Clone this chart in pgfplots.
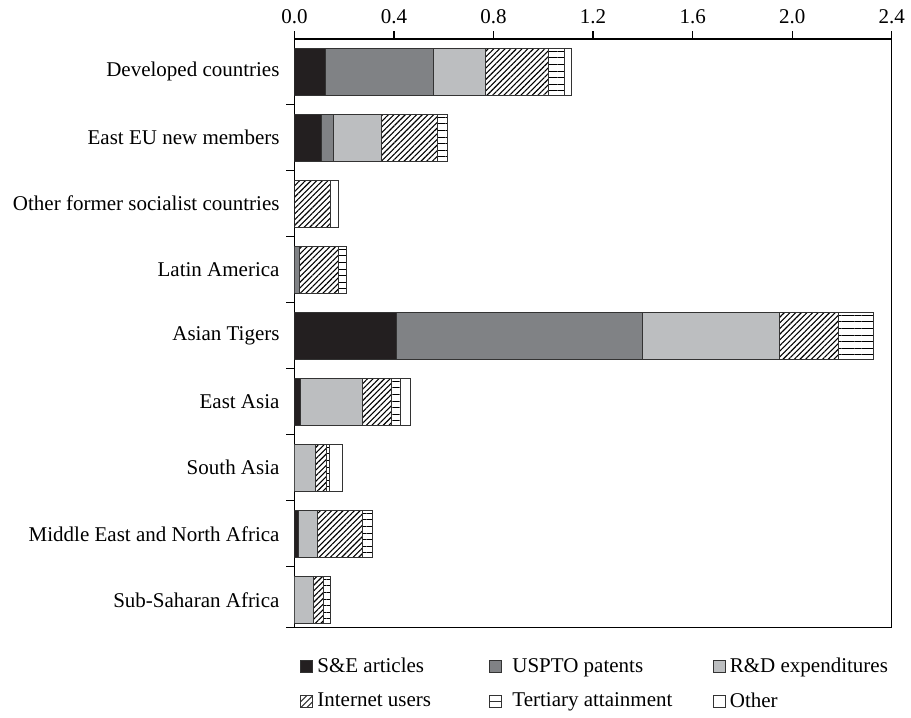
\documentclass[border=0pt]{standalone}
\usepackage{fontspec}
\setmainfont{Liberation Serif}
\usepackage{pgfplots}
\pgfplotsset{compat=1.18}
\usepackage{pgfplotstable}
\usetikzlibrary{patterns.meta}

\definecolor{cSE}{HTML}{231F20}
\definecolor{cPat}{HTML}{808285}
\definecolor{cRD}{HTML}{BCBEC0}
\definecolor{cEdge}{HTML}{333333}

% Contribution of each component, by region (stacked)
\pgfplotstableread{
idx SE    USPTO RD    Internet Tertiary Other
0   0.125 0.434 0.210 0.252    0.066    0.027
1   0.107 0.051 0.191 0.227    0.040    0.000
2   0.000 0.000 0.000 0.144    0.000    0.032
3   0.000 0.022 0.000 0.154    0.035    0.000
4   0.411 0.988 0.551 0.235    0.140    0.000
5   0.025 0.000 0.248 0.118    0.036    0.041
6   0.000 0.000 0.084 0.043    0.015    0.050
7   0.018 0.000 0.075 0.179    0.042    0.000
8   0.000 0.000 0.076 0.040    0.027    0.000
}\regiondata

\pgfplotsset{
  sqlegend/.style={legend image code/.code={
      \draw[##1] (0pt,-3pt) rectangle (6pt,3pt);}},
  hatchlegend/.style={legend image code/.code={
      \draw[draw=cEdge,line width=0.5pt,fill=white] (0pt,-3pt) rectangle (6pt,3pt);
      \draw[line width=0.5pt] (0pt,-3pt) -- (6pt,3pt);
      \draw[line width=0.5pt] (0pt,0pt) -- (3pt,3pt);
      \draw[line width=0.5pt] (3pt,-3pt) -- (6pt,0pt);}},
  hlinelegend/.style={legend image code/.code={
      \draw[draw=cEdge,line width=0.5pt,fill=white] (0pt,-3pt) rectangle (6pt,3pt);
      \draw[line width=0.5pt] (0pt,0pt) -- (6pt,0pt);}},
}

\begin{document}
\fontsize{10.5}{12.6}\selectfont
\begin{tikzpicture}
\path[use as bounding box] (-147.25pt,-45.35pt) rectangle (308.25pt,313.65pt);
\begin{axis}[
  at={(0pt,0pt)}, anchor=south west,
  scale only axis, width=298.6pt, height=294.15pt,
  xbar stacked, bar width=23.35pt,
  y dir=reverse, ymin=-0.495, ymax=8.418,
  xmin=0, xmax=2.4,
  xtick={0,0.4,...,2.4},
  xtick pos=upper, xticklabel pos=upper,
  tick align=outside,
  major tick length=4pt,
  axis line style={line width=0.6pt, draw=black},
  every tick/.style={line width=0.6pt, black},
  xticklabel style={/pgf/number format/.cd, fixed, fixed zerofill, precision=1,
    /pgf/number format/assume math mode=true},
  ytick={0.5,1.5,...,7.5,8.418},
  yticklabels={},
  ytick pos=left,
  extra y ticks={0,1,2,3,4,5,6,7,8},
  extra y tick labels={Developed countries, East EU new members,
    Other former socialist countries, Latin America, Asian Tigers,
    East Asia, South Asia, Middle East and North Africa, Sub-Saharan Africa},
  extra y tick style={major tick length=0pt,
    tick label style={xshift=-3.8pt}},
  legend columns=3,
  legend cell align=left,
  legend style={draw=none, fill=none, inner sep=0pt, row sep=4.5pt,
    at={(0.0092,-0.0445)}, anchor=north west,
    font=\fontsize{10.5}{12.6}\selectfont,
    /tikz/every even column/.append style={column sep=0pt}},
]
\addplot[fill=cSE, draw=cEdge, line width=0.5pt, sqlegend]
  table[x=SE, y=idx] {\regiondata};
\addlegendentry{\makebox[83.75pt][l]{S\&E articles}}
\addplot[fill=cPat, draw=cEdge, line width=0.5pt, sqlegend]
  table[x=USPTO, y=idx] {\regiondata};
\addlegendentry{\makebox[101.5pt][l]{\hspace{3.25pt}USPTO patents}}
\addplot[fill=cRD, draw=cEdge, line width=0.5pt, sqlegend]
  table[x=RD, y=idx] {\regiondata};
\addlegendentry{R\&D expenditures}
\addplot[draw=cEdge, line width=0.5pt,
  pattern={Lines[angle=45, distance=2pt, line width=0.55pt]}, pattern color=black,
  hatchlegend]
  table[x=Internet, y=idx] {\regiondata};
\addlegendentry{\makebox[83.75pt][l]{Internet users}}
\addplot[draw=cEdge, line width=0.5pt,
  pattern={Lines[angle=0, distance=3.3pt, line width=0.5pt]}, pattern color=black,
  hlinelegend]
  table[x=Tertiary, y=idx] {\regiondata};
\addlegendentry{\makebox[101.5pt][l]{\hspace{3.25pt}Tertiary attainment}}
\addplot[fill=white, draw=cEdge, line width=0.5pt, sqlegend]
  table[x=Other, y=idx] {\regiondata};
\addlegendentry{Other}
\end{axis}
\end{tikzpicture}
\end{document}
